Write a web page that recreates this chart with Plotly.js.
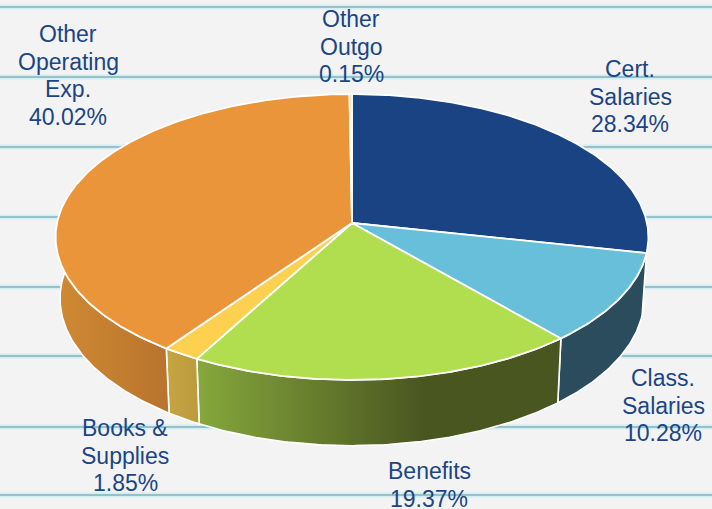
<!DOCTYPE html>
<html><head><meta charset="utf-8">
<script src="https://cdn.plot.ly/plotly-3.0.1.min.js"></script>
<style>html,body{margin:0;padding:0;background:#f3f3f3}#c{width:712px;height:509px}</style>
</head><body><div id="c"></div>
<script>
const categories = ["Cert. Salaries","Class. Salaries","Benefits","Books & Supplies","Other Operating Exp.","Other Outgo"];
const shares = [28.34,10.28,19.37,1.85,40.02,0.15];
const topColors = ["#1a4384","#68bfda","#b1de4f","#fdd050","#ea953a","#f6c08a"];
const wallStart = ["#12305e","#2a4c5c","#86a83c","#c6a542","#d08a33","#d08a33"];
const wallEnd = ["#12305e","#2a4c5c","#4a5620","#ba9a3c","#b8732d","#d08a33"];
const labelLines = [["Cert.","Salaries","28.34%"],["Class.","Salaries","10.28%"],["Benefits","19.37%"],["Books &","Supplies","1.85%"],["Other","Operating","Exp.","40.02%"],["Other","Outgo","0.15%"]];
const labelX = [630,663,429,125,68,351];
const labelY = [69,378,471,428,34,19];
const labelStep = 27.7;
const ruleY = [7,77,147,217,287,356,427,495];

// projection of the tilted disc
const cx=352, cy=223, rx=295, ry=141.6, k=0.0979, depth=61, sy=1.03, sx=0.985;
function topPt(deg){const t=deg*Math.PI/180,u=Math.sin(t),v=Math.cos(t),d=1+k*v;return [cx+rx*u/d,cy-ry*v/d];}
function botPt(deg){const p=topPt(deg);return [cx+(p[0]-cx)*sx,cy+depth+(p[1]-cy)*sy];}
function arc(a,b,f){const n=Math.max(2,Math.ceil(Math.abs(b-a)*1.5)),o=[];for(let i=0;i<=n;i++)o.push(f(a+(b-a)*i/n));return o;}

const total=shares.reduce((s,v)=>s+v,0);
let acc=0; const angles=shares.map(v=>{const a=acc/total*360;acc+=v;return [a,acc/total*360];});

const walls=[],tops=[];
angles.forEach((ang,i)=>{
  const a=Math.max(ang[0],84),b=Math.min(ang[1],276);
  if(b>a){
    const pts=arc(a,b,topPt).concat(arc(b,a,botPt));pts.push(pts[0]);
    walls.push({type:"scatter",mode:"lines",x:pts.map(p=>p[0]),y:pts.map(p=>p[1]),fill:"toself",
      fillgradient:{type:"horizontal",colorscale:[[0,i==2?wallStart[i]:(a>180?wallStart[i]:wallEnd[i])],[i==2?0.62:0.001,i==2?wallEnd[i]:(a>180?wallStart[i]:wallEnd[i])],[1,a>180?wallEnd[i]:wallEnd[i]]]},
      line:{color:"#ffffff",width:1.6},hoverinfo:"skip",showlegend:false,name:categories[i]+" side"});
  }
});
angles.forEach((ang,i)=>{
  const pts=[[cx,cy]].concat(arc(ang[0],ang[1],topPt));pts.push([cx,cy]);
  tops.push({type:"scatter",mode:"lines",x:pts.map(p=>p[0]),y:pts.map(p=>p[1]),fill:"toself",fillcolor:topColors[i],
    line:{color:"#ffffff",width:1.8},hoverinfo:"skip",showlegend:false,name:categories[i]});
});

const annotations=[];
labelLines.forEach((lines,i)=>lines.forEach((t,j)=>annotations.push({
  text:t,x:labelX[i],y:labelY[i]+j*labelStep,xref:"x",yref:"y",showarrow:false,xanchor:"center",yanchor:"middle",
  font:{family:"Liberation Sans, Arial, sans-serif",size:23,color:"#1b4587"},
  borderpad:0,
  hovertext:categories[i]})));

const shapes=[];
ruleY.forEach(y=>{
  shapes.push({type:"line",xref:"x",yref:"y",x0:0,x1:712,y0:y,y1:y,layer:"below",line:{color:"#d4eef3",width:5}});
  shapes.push({type:"line",xref:"x",yref:"y",x0:0,x1:712,y0:y,y1:y,layer:"below",line:{color:"#7fb3ba",width:1.6}});
});

Plotly.newPlot("c",walls.concat(tops),{
  width:712,height:509,margin:{l:0,r:0,t:0,b:0},paper_bgcolor:"#f3f3f3",plot_bgcolor:"rgba(0,0,0,0)",
  xaxis:{range:[0,712],visible:false,fixedrange:true},
  yaxis:{range:[509,0],visible:false,fixedrange:true},
  shapes:shapes,annotations:annotations,showlegend:false
},{displayModeBar:false,staticPlot:true});
</script></body></html>
